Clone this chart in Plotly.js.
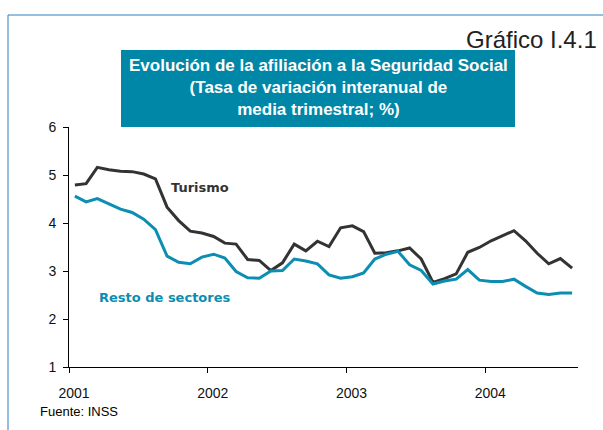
<!DOCTYPE html>
<html>
<head>
<meta charset="utf-8">
<script src="https://cdn.plot.ly/plotly-3.0.1.min.js"></script>
<style>
html,body{margin:0;padding:0;background:#fff;}
#chart{width:603px;height:430px;}
</style>
</head>
<body>
<div id="chart"></div>
<script>
// Months Jan 2001 .. Aug 2004
const months = [
  "2001-01","2001-02","2001-03","2001-04","2001-05","2001-06","2001-07","2001-08","2001-09","2001-10","2001-11","2001-12",
  "2002-01","2002-02","2002-03","2002-04","2002-05","2002-06","2002-07","2002-08","2002-09","2002-10","2002-11","2002-12",
  "2003-01","2003-02","2003-03","2003-04","2003-05","2003-06","2003-07","2003-08","2003-09","2003-10","2003-11","2003-12",
  "2004-01","2004-02","2004-03","2004-04","2004-05","2004-06","2004-07","2004-08"
];
const turismo = [
  4.79, 4.82, 5.16, 5.11, 5.08, 5.07, 5.02, 4.92, 4.33, 4.05, 3.83, 3.79,
  3.72, 3.58, 3.56, 3.24, 3.22, 3.01, 3.17, 3.56, 3.42, 3.62, 3.51, 3.90,
  3.94, 3.82, 3.37, 3.38, 3.42, 3.48, 3.25, 2.76, 2.84, 2.94, 3.39, 3.49,
  3.63, 3.74, 3.84, 3.63, 3.37, 3.15, 3.26, 3.06
];
const resto = [
  4.56, 4.44, 4.51, 4.40, 4.29, 4.22, 4.08, 3.86, 3.31, 3.18, 3.15, 3.29,
  3.35, 3.27, 2.99, 2.86, 2.85, 3.00, 3.01, 3.25, 3.21, 3.15, 2.92, 2.85,
  2.88, 2.96, 3.25, 3.35, 3.41, 3.13, 3.01, 2.73, 2.79, 2.83, 3.03, 2.81,
  2.78, 2.78, 2.83, 2.68, 2.54, 2.51, 2.54, 2.54
];
const yTicks = [1, 2, 3, 4, 5, 6];

const traces = [
  {x: months, y: turismo, type: "scatter", mode: "lines", name: "Turismo",
   xperiod: "M1", xperiodalignment: "middle",
   line: {color: "#333333", width: 3}},
  {x: months, y: resto, type: "scatter", mode: "lines", name: "Resto de sectores",
   xperiod: "M1", xperiodalignment: "middle",
   line: {color: "#0C8DB2", width: 3}}
];

const W = 509, H = 240, L = 69, T = 127;
const px = v => (v - L) / W;
const py = v => (T + H - v) / H;

const layout = {
  width: 603, height: 430,
  margin: {l: L, r: 603 - L - W, t: T, b: 430 - T - H, pad: 0},
  paper_bgcolor: "#ffffff", plot_bgcolor: "#ffffff",
  showlegend: false,
  font: {family: "Liberation Sans, Arial, sans-serif", size: 13, color: "#000"},
  xaxis: {
    type: "date",
    range: ["2001-01-01", "2004-09-01"],
    tick0: "2001-01-01", dtick: "M12", tickformat: "%Y",
    ticks: "outside", ticklen: 5, tickcolor: "#000", tickwidth: 1,
    showline: true, linecolor: "#000", linewidth: 1,
    showgrid: false, zeroline: false,
    ticklabelshift: 5, ticklabelstandoff: 8,
    tickfont: {size: 14, color: "#111"}
  },
  yaxis: {
    range: [1, 6], tickvals: yTicks,
    ticks: "outside", ticklen: 5, tickcolor: "#000", tickwidth: 1,
    showline: true, linecolor: "#000", linewidth: 1,
    showgrid: false, zeroline: false,
    ticklabelstandoff: 4,
    tickfont: {size: 14, color: "#111"}
  },
  shapes: [
    {type: "path", xref: "paper", yref: "paper",
     path: `M ${px(8)} ${py(431)} L ${px(8)} ${py(15)} L ${px(604)} ${py(15)}`,
     line: {color: "#2F7FBF", width: 1}},
    {type: "rect", xref: "paper", yref: "paper",
     x0: px(121), x1: px(515), y0: py(127), y1: py(50),
     fillcolor: "#0087A8", line: {width: 0}, layer: "below"}
  ],
  annotations: [
    {xref: "paper", yref: "paper", x: px(318), y: py(88), xanchor: "center", yanchor: "middle",
     text: "<b>Evolución de la afiliación a la Seguridad Social<br>(Tasa de variación interanual de<br>media trimestral; %)</b>",
     showarrow: false, align: "center",
     font: {family: "Liberation Sans, Arial, sans-serif", size: 17, color: "#ffffff"}},
    {xref: "paper", yref: "paper", x: px(599), y: py(40), xanchor: "right", yanchor: "middle",
     text: "Gráfico I.4.1", showarrow: false,
     font: {family: "Liberation Sans, Arial, sans-serif", size: 24, color: "#222"}},
    {xref: "paper", yref: "paper", x: px(169), y: py(187), xanchor: "left", yanchor: "middle",
     text: "<b>Turismo</b>", showarrow: false,
     font: {family: "DejaVu Sans, Verdana, sans-serif", size: 13, color: "#333333"}},
    {xref: "paper", yref: "paper", x: px(97), y: py(297), xanchor: "left", yanchor: "middle",
     text: "<b>Resto de sectores</b>", showarrow: false,
     font: {family: "DejaVu Sans, Verdana, sans-serif", size: 13, color: "#0C8DB2"}},
    {xref: "paper", yref: "paper", x: px(38), y: py(411), xanchor: "left", yanchor: "middle",
     text: "Fuente: INSS", showarrow: false,
     font: {family: "Liberation Sans, Arial, sans-serif", size: 13, color: "#000"}}
  ]
};

Plotly.newPlot("chart", traces, layout, {staticPlot: true, displayModeBar: false});
</script>
</body>
</html>
